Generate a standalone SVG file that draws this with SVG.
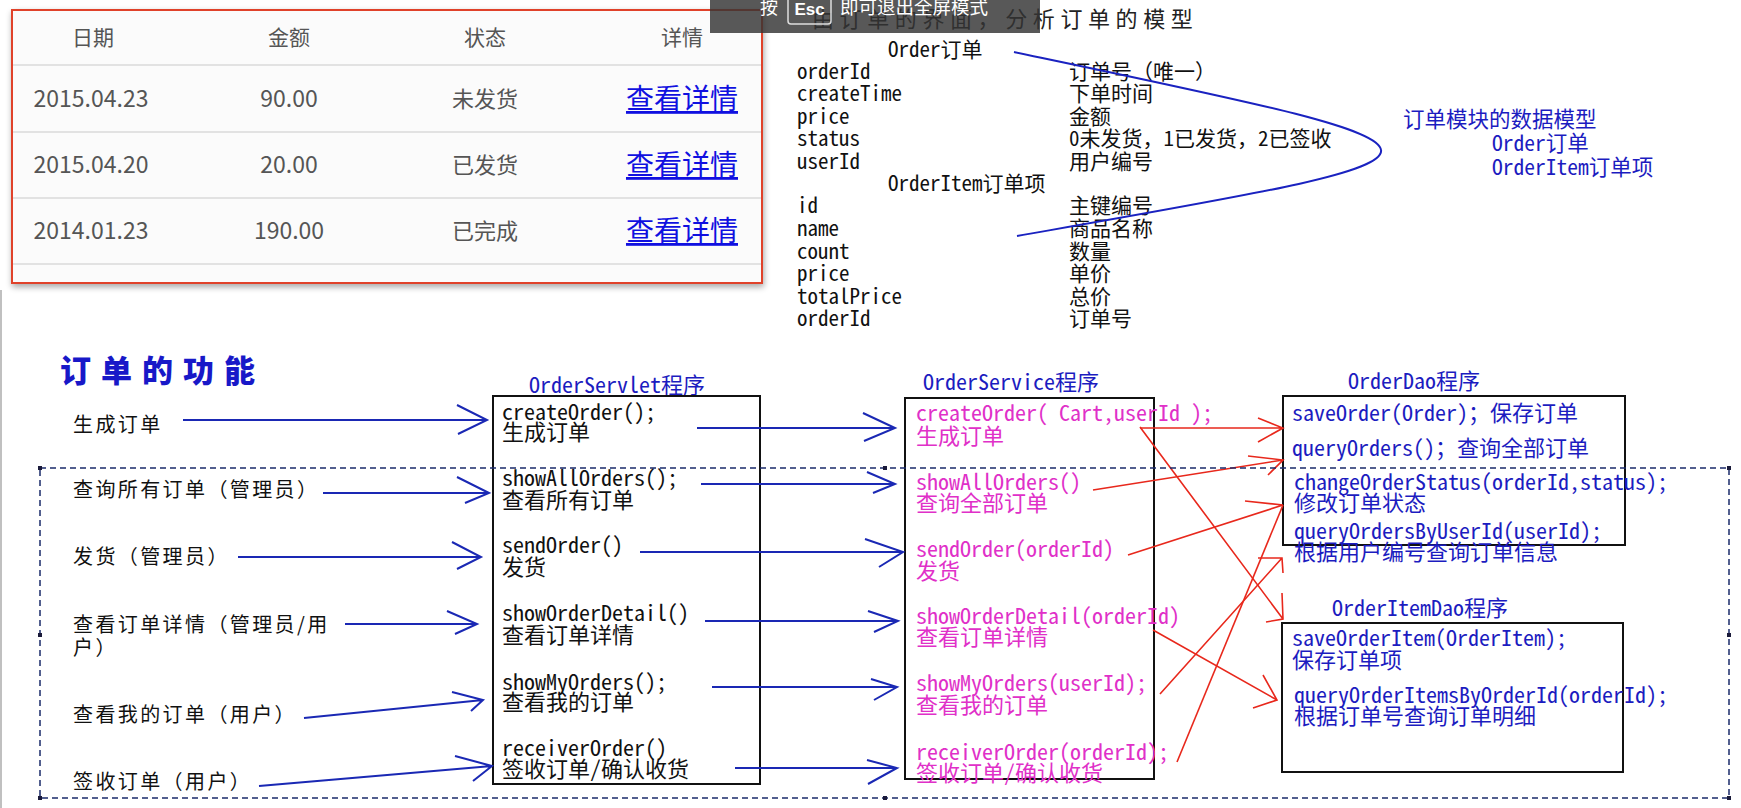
<svg xmlns="http://www.w3.org/2000/svg" width="1741" height="808" viewBox="0 0 1741 808">
<style>
.m{font-family:"Noto Sans Mono CJK SC","Liberation Mono","Noto Sans CJK SC",monospace;font-size:22px}
.m21{font-family:"Noto Sans Mono CJK SC","Liberation Mono","Noto Sans CJK SC",monospace;font-size:21px;fill:#111}
.pk{fill:#e030c8}
.bl{fill:#1c1cc0}
.bk{fill:#111}
.lab{font-family:"Noto Sans CJK SC",sans-serif;font-size:20px;letter-spacing:2.4px;fill:#111}
.tb{font-family:"Noto Sans CJK SC",sans-serif;fill:#555}
.lnk{font-family:"Noto Sans CJK SC",sans-serif;font-size:28px;fill:#1010e0;text-decoration:underline}
.box{fill:none;stroke:#111;stroke-width:2}
.ba{stroke:#1a28b4;stroke-width:2;fill:none}
.ra{stroke:#e8281c;stroke-width:1.6;fill:none}
.sep{stroke:#e2e2e2;stroke-width:2}
.hd{fill:#1a1a3a}
</style>
<defs>
<filter id="sh" x="-5%" y="-5%" width="110%" height="115%">
<feGaussianBlur in="SourceAlpha" stdDeviation="3"/>
<feOffset dx="1" dy="3" result="b"/>
<feComponentTransfer><feFuncA type="linear" slope="0.35"/></feComponentTransfer>
<feMerge><feMergeNode/><feMergeNode in="SourceGraphic"/></feMerge>
</filter>
</defs>
<rect width="1741" height="808" fill="#fff"/>
<line x1="1" y1="290" x2="1" y2="808" stroke="#c0c0c0" stroke-width="2"/>

<!-- order table -->
<g id="order-table">
<rect x="12" y="10" width="750" height="273" fill="#fbfbfb" stroke="#e0432c" stroke-width="2" filter="url(#sh)"/>
<line class="sep" x1="13" y1="65" x2="761" y2="65"/>
<line class="sep" x1="13" y1="132" x2="761" y2="132"/>
<line class="sep" x1="13" y1="198" x2="761" y2="198"/>
<line class="sep" x1="13" y1="264" x2="761" y2="264"/>
<g class="tb" font-size="21" text-anchor="middle">
<text x="93" y="45">日期</text><text x="289" y="45">金额</text><text x="485" y="45">状态</text><text x="682" y="45">详情</text>
</g>
<g class="tb" font-size="23" text-anchor="middle">
<text x="91" y="107">2015.04.23</text><text x="289" y="107">90.00</text><text x="485" y="107" font-size="22">未发货</text>
<text x="91" y="173">2015.04.20</text><text x="289" y="173">20.00</text><text x="485" y="173" font-size="22">已发货</text>
<text x="91" y="239">2014.01.23</text><text x="289" y="239">190.00</text><text x="485" y="239" font-size="22">已完成</text>
</g>
<g class="lnk" text-anchor="middle">
<text x="682" y="109">查看详情</text><text x="682" y="175">查看详情</text><text x="682" y="241">查看详情</text>
</g>
</g>

<!-- page title -->
<g id="page-title">
<text x="812" y="27" font-family="Noto Sans CJK SC,sans-serif" font-size="22" letter-spacing="5.6" fill="#222">由订单的界面，分析订单的模型</text>
</g>

<!-- model -->
<g id="data-model" class="m21">
<text x="888" y="56.5">Order订单</text>
<text x="797" y="78.5">orderId</text><text x="1069" y="78.5">订单号（唯一）</text>
<text x="797" y="100.5">createTime</text><text x="1069" y="100.5">下单时间</text>
<text x="797" y="123.5">price</text><text x="1069" y="123.5">金额</text>
<text x="797" y="145.5">status</text><text x="1069" y="145.5">0未发货，1已发货，2已签收</text>
<text x="797" y="168.5">userId</text><text x="1069" y="168.5">用户编号</text>
<text x="888" y="190.5">OrderItem订单项</text>
<text x="797" y="212.5">id</text><text x="1069" y="212.5">主键编号</text>
<text x="797" y="235.5">name</text><text x="1069" y="235.5">商品名称</text>
<text x="797" y="258.5">count</text><text x="1069" y="258.5">数量</text>
<text x="797" y="280.5">price</text><text x="1069" y="280.5">单价</text>
<text x="797" y="303.5">totalPrice</text><text x="1069" y="303.5">总价</text>
<text x="797" y="325.5">orderId</text><text x="1069" y="325.5">订单号</text>
</g>
<g id="model-note" class="m21" style="fill:#1c1cc0;font-size:21.5px">
<text x="1403" y="127">订单模块的数据模型</text>
<text x="1492" y="151">Order订单</text>
<text x="1492" y="175">OrderItem订单项</text>
</g>

<!-- fullscreen overlay -->
<g id="esc-overlay">
<rect x="710" y="0" width="330" height="33" fill="#333" fill-opacity="0.82"/>
<text x="760" y="14" font-family="Noto Sans CJK SC,sans-serif" font-size="18" fill="#fff">按</text>
<rect x="788" y="-6" width="43" height="30" rx="3" fill="none" stroke="#ddd" stroke-width="1.5"/>
<text x="809.5" y="15" text-anchor="middle" font-family="Liberation Sans,sans-serif" font-weight="bold" font-size="17" fill="#fff">Esc</text>
<text x="840" y="14" font-family="Noto Sans CJK SC,sans-serif" font-size="18.5" fill="#fff">即可退出全屏模式</text>
</g>

<!-- function title -->
<g id="func-title">
<text x="60" y="382" font-family="Noto Sans CJK SC,sans-serif" font-size="31" font-weight="900" letter-spacing="10" fill="#1818c8">订单的功能</text>
</g>

<!-- left labels -->
<g id="labels" class="lab">
<text x="73" y="432">生成订单</text>
<text x="73" y="497">查询所有订单（管理员）</text>
<text x="73" y="564">发货（管理员）</text>
<text x="73" y="632">查看订单详情（管理员/用</text>
<text x="73" y="655">户）</text>
<text x="73" y="722">查看我的订单（用户）</text>
<text x="73" y="789">签收订单（用户）</text>
</g>

<!-- OrderServlet -->
<g id="order-servlet" class="m">
<text x="529" y="393" class="bl">OrderServlet程序</text>
<rect class="box" x="493" y="396" width="267" height="388"/>
<g class="bk">
<text x="502" y="420">createOrder();</text><text x="502" y="440">生成订单</text>
<text x="502" y="486">showAllOrders();</text><text x="502" y="508">查看所有订单</text>
<text x="502" y="553">sendOrder()</text><text x="502" y="575">发货</text>
<text x="502" y="621">showOrderDetail()</text><text x="502" y="643">查看订单详情</text>
<text x="502" y="690">showMyOrders();</text><text x="502" y="710">查看我的订单</text>
<text x="502" y="756">receiverOrder()</text><text x="502" y="777">签收订单/确认收货</text>
</g>
</g>

<!-- OrderService -->
<g id="order-service" class="m">
<text x="923" y="390" class="bl">OrderService程序</text>
<rect class="box" x="905" y="398" width="249" height="381"/>
<g class="pk">
<text x="916" y="421">createOrder( Cart,userId );</text><text x="916" y="444">生成订单</text>
<text x="916" y="490">showAllOrders()</text><text x="916" y="511">查询全部订单</text>
<text x="916" y="557">sendOrder(orderId)</text><text x="916" y="579">发货</text>
<text x="916" y="624">showOrderDetail(orderId)</text><text x="916" y="645">查看订单详情</text>
<text x="916" y="691">showMyOrders(userId);</text><text x="916" y="713">查看我的订单</text>
<text x="916" y="760">receiverOrder(orderId);</text><text x="916" y="781">签收订单/确认收货</text>
</g>
</g>

<!-- OrderDao -->
<g id="order-dao" class="m">
<text x="1348" y="389" class="bl">OrderDao程序</text>
<rect class="box" x="1283" y="396" width="342" height="149"/>
<g class="bl">
<text x="1292" y="421">saveOrder(Order)；保存订单</text>
<text x="1292" y="456">queryOrders()；查询全部订单</text>
<text x="1294" y="490">changeOrderStatus(orderId,status);</text><text x="1294" y="511">修改订单状态</text>
<text x="1294" y="539">queryOrdersByUserId(userId);</text><text x="1294" y="560">根据用户编号查询订单信息</text>
</g>
</g>

<!-- OrderItemDao -->
<g id="order-item-dao" class="m">
<text x="1332" y="616" class="bl">OrderItemDao程序</text>
<rect class="box" x="1282" y="623" width="341" height="149"/>
<g class="bl">
<text x="1292" y="646">saveOrderItem(OrderItem);</text><text x="1292" y="668">保存订单项</text>
<text x="1294" y="703">queryOrderItemsByOrderId(orderId);</text><text x="1294" y="724">根据订单号查询订单明细</text>
</g>
</g>

<!-- connectors -->
<g id="connectors">
<path d="M1014,52 C1504,155 1502,151 1017,236" stroke="#1a22c0" stroke-width="2" fill="none"/>
<g class="ba">
<path d="M183,420H487M457,405L487,420L458,434"/>
<path d="M323,493H489M457,477L489,493L465,503"/>
<path d="M238,557H481M452,542L481,557L457,569"/>
<path d="M345,624H477M447,611L477,624L455,634"/>
<path d="M304,718L483,700M452,692L483,700L471,711"/>
<path d="M259,786L492,766M455,756L492,766L473,781"/>
<path d="M697,428H895M863,413L895,428L864,441"/>
<path d="M701,484H895M867,472L895,484L873,493"/>
<path d="M640,552H903M865,539L903,552L879,567"/>
<path d="M705,621H898M868,611L898,621L874,632"/>
<path d="M712,687H897M871,679L897,687L874,700"/>
<path d="M735,768H897M867,760L897,768L868,784"/>
</g>
<g class="ra">
<path d="M1140,428H1283M1258,418L1283,428L1258,442"/>
<path d="M1140,427L1283,619M1282,593L1283,619L1266,622"/>
<path d="M1093,490L1283,460M1248,456L1283,460L1268,475"/>
<path d="M1128,555L1283,505M1245,501L1283,505"/>
<path d="M1177,762L1283,505"/>
<path d="M1160,694L1282,558M1258,558L1282,558L1283,573"/>
<path d="M1153,630L1277,700M1263,675L1277,700L1253,708"/>
</g>
</g>

<!-- selection frame -->
<g id="selection-frame">
<rect x="40" y="468" width="1689" height="330" fill="none" stroke="#1a2a6a" stroke-width="1.5" stroke-dasharray="6 4"/>
<rect class="hd" x="38" y="466" width="4" height="4"/><rect class="hd" x="883" y="466" width="4" height="4"/><rect class="hd" x="1727" y="466" width="4" height="4"/>
<rect class="hd" x="38" y="633" width="4" height="4"/><rect class="hd" x="1727" y="633" width="4" height="4"/>
<rect class="hd" x="38" y="796" width="4" height="4"/><rect class="hd" x="883" y="796" width="4" height="4"/><rect class="hd" x="1727" y="796" width="4" height="4"/>
</g>
</svg>
